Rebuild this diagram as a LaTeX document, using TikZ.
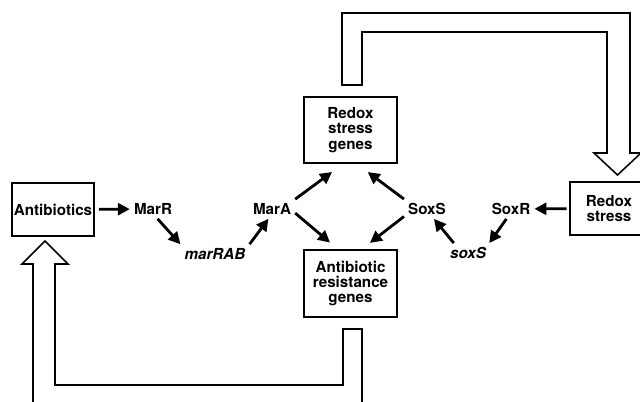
\documentclass[tikz,border=0pt]{standalone}
\usepackage{fontspec}
\setmainfont{TeX Gyre Heros}
\usetikzlibrary{arrows.meta}
\begin{document}
\begin{tikzpicture}[x=0.025cm, y=-0.025cm, ->, >={Triangle[length=8.5pt,width=8.5pt]}, line width=2pt,
  every node/.style={font=\fontsize{10.8}{10.8}\selectfont\bfseries, inner sep=2pt},
  box/.style={draw, line width=0.9pt, align=center, inner sep=0pt},
  hollow/.style={-, draw, fill=white, line width=1.1pt, line join=miter}]
\useasboundingbox (0,0) rectangle (640,402);
\clip (0,0) rectangle (640,402);
% feedback arrows
\draw[hollow] (342,85) -- (342,13) -- (630,13) -- (630,153) -- (641,153) -- (617.5,175)
  -- (594,153) -- (607,153) -- (607,32) -- (362,32) -- (362,85) -- cycle;
\draw[hollow] (362,329) -- (362,412) -- (33,412) -- (33,264) -- (22,264) -- (45,241)
  -- (68,264) -- (55,264) -- (55,385) -- (343,385) -- (343,329) -- cycle;
% nodes
\node[box, minimum width=2.05cm, minimum height=1.325cm] (antib) at (53,209.5) {Antibiotics};
\node (marr) at (153,209) {MarR};
\node (marrab) at (215,254) {\itshape marRAB};
\node (mara) at (272,209) {MarA};
\node[box, minimum width=2.325cm, minimum height=1.65cm] (rsg) at (350.5,130) {Redox\\stress\\genes};
\node[box, minimum width=2.325cm, minimum height=1.675cm] (arg) at (350.5,283.5) {Antibiotic\\resistance\\genes};
\node (soxs) at (427,209) {SoxS};
\node (soxsg) at (468,253) {\itshape soxS};
\node (soxr) at (511,209) {SoxR};
\node[box, minimum width=1.95cm, minimum height=1.325cm] (redox) at (609,208.5) {Redox\\stress};
% regulation
\draw[shorten <=3pt] (antib) -- (marr);
\draw (marr.-65) -- (marrab.north west);
\draw (marrab.north east) -- (mara.-110);
\draw[shorten >=10pt] (mara.north east) -- (rsg.-102);
\draw[shorten >=7.5pt] (mara.-10) -- (arg.110);
\draw[shorten >=10pt] (soxs.north west) -- (rsg.-80);
\draw[shorten >=7.5pt] (soxs.-162) -- (arg.72);
\draw (soxsg.145) -- (soxs.-55);
\draw (soxr.-115) -- (soxsg.25);
\draw[shorten <=2pt] (redox) -- (soxr);
\end{tikzpicture}
\end{document}
